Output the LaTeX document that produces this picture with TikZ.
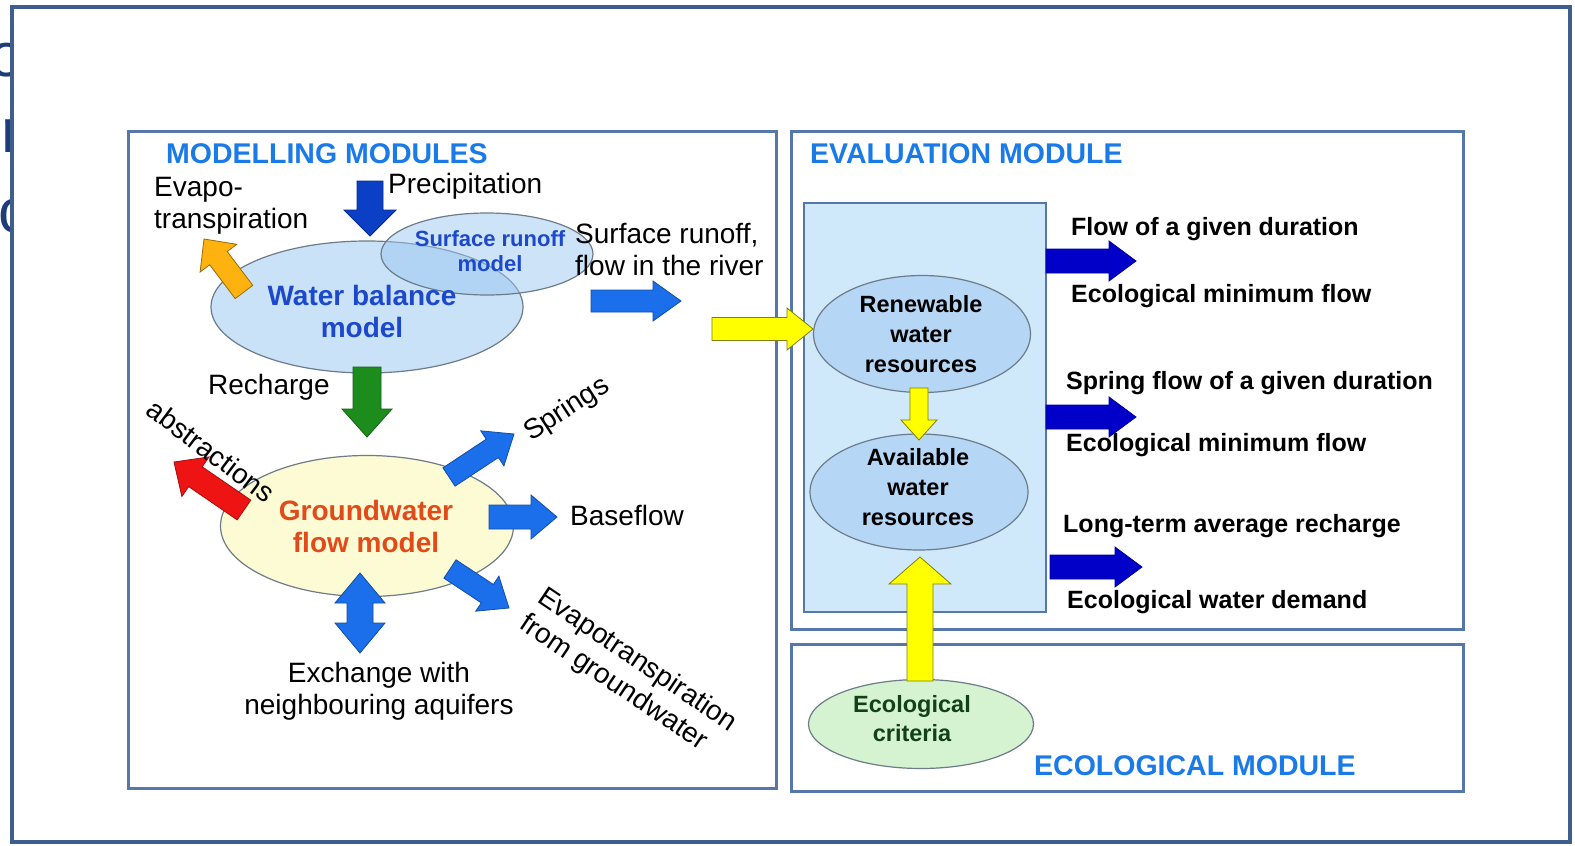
\documentclass[tikz,border=0pt]{standalone}
\usepackage{fontspec}
\setmainfont{Liberation Sans}
\usetikzlibrary{shapes.geometric,calc}
\definecolor{frameblue}{HTML}{3E5E8E}
\definecolor{boxblue}{HTML}{5577AA}
\definecolor{titleblue}{HTML}{1A7AE8}
\definecolor{wbfill}{HTML}{C9E2F8}
\definecolor{srfill}{HTML}{9CC8F2}
\definecolor{ellgray}{HTML}{6E7B88}
\definecolor{wbtext}{HTML}{1C48CC}
\definecolor{gwfill}{HTML}{FDFBD3}
\definecolor{gwtext}{HTML}{E24A1A}
\definecolor{evfill}{HTML}{CFE9FB}
\definecolor{rwfill}{HTML}{B6D6F6}
\definecolor{ecfill}{HTML}{D5F3D0}
\definecolor{ectext}{HTML}{12401A}
\definecolor{precblue}{HTML}{0B3FC6}
\definecolor{midblue}{HTML}{1B6FEB}
\definecolor{arrorange}{HTML}{FDB20F}
\definecolor{arrgreen}{HTML}{1C8C1C}
\definecolor{arrred}{HTML}{EE1414}
\definecolor{arryellow}{HTML}{FFFF00}
\definecolor{darkblue}{HTML}{0000C8}
\definecolor{navy}{HTML}{1F3C7A}
\newcommand\blockarrow[6][]{%
  \path[#1] let \p1=(#2), \p2=(#3), \n1={atan2(\y2-\y1,\x2-\x1)} in
    ($(\p1)+(\n1+90:#4)$) --
    ($(\p2)+(\n1+180:#6)+(\n1+90:#4)$) --
    ($(\p2)+(\n1+180:#6)+(\n1+90:#5)$) --
    (\p2) --
    ($(\p2)+(\n1+180:#6)+(\n1-90:#5)$) --
    ($(\p2)+(\n1+180:#6)+(\n1-90:#4)$) --
    ($(\p1)+(\n1-90:#4)$) -- cycle;}
\newcommand\dblarrow[6][]{%
  \path[#1] let \p1=(#2), \p2=(#3), \n1={atan2(\y2-\y1,\x2-\x1)} in
    ($(\p1)+(\n1:#6)+(\n1+90:#4)$) --
    ($(\p2)+(\n1+180:#6)+(\n1+90:#4)$) --
    ($(\p2)+(\n1+180:#6)+(\n1+90:#5)$) --
    (\p2) --
    ($(\p2)+(\n1+180:#6)+(\n1-90:#5)$) --
    ($(\p2)+(\n1+180:#6)+(\n1-90:#4)$) --
    ($(\p1)+(\n1:#6)+(\n1-90:#4)$) --
    ($(\p1)+(\n1:#6)+(\n1-90:#5)$) --
    (\p1) --
    ($(\p1)+(\n1:#6)+(\n1+90:#5)$) -- cycle;}
\tikzset{
  lbl/.style={font=\fontsize{28}{32}\selectfont, text=black, inner sep=0pt},
  evl/.style={font=\bfseries\fontsize{25}{28}\selectfont, text=black, anchor=west, inner sep=0pt},
  ttl/.style={font=\bfseries\fontsize{28.5}{32}\selectfont, text=titleblue, anchor=west, inner sep=0pt},
  modbox/.style={draw=boxblue, line width=3pt},
  ell/.style={ellipse, draw=ellgray, line width=1.2pt, inner sep=0pt},
  ellt/.style={font=\bfseries\fontsize{23.5}{30}\selectfont, align=center, inner sep=0pt},
  precarr/.style={fill=precblue, draw=precblue!70!black, line width=0.8pt},
  bluearr/.style={fill=midblue, draw=midblue!70!black, line width=0.8pt},
  orarr/.style={fill=arrorange, draw=arrorange!60!black, line width=0.8pt},
  grarr/.style={fill=arrgreen, draw=arrgreen!70!black, line width=0.8pt},
  redarr/.style={fill=arrred, draw=arrred!70!black, line width=0.8pt},
  yelarr/.style={fill=arryellow, draw=arryellow!50!black, line width=0.8pt},
  dbarr/.style={fill=darkblue, draw=darkblue!80!black, line width=0.8pt},
}
\begin{document}
\begin{tikzpicture}[x=1pt,y=-1pt]
\useasboundingbox (0,0) rectangle (1575,846);
% slide remnants at the left edge
\begin{scope}
\clip (0,0) rectangle (14,846);
\node[font=\fontsize{62}{62}\selectfont, text=navy, anchor=east, inner sep=0pt] (f1) at (24,60) {o};
\node[font=\fontsize{62}{62}\selectfont, text=navy, anchor=east, inner sep=0pt] (f2) at (22,136) {r};
\node[font=\fontsize{62}{62}\selectfont, text=navy, anchor=east, inner sep=0pt] (f3) at (30,216) {c};
\end{scope}
% outer frame
\draw[frameblue, line width=4pt, fill=white] (12,7) rectangle (1570,842);
% module boxes
\draw[modbox] (128,131) rectangle (776,788);
\draw[modbox] (791,131) rectangle (1463,629);
\draw[modbox] (791,644) rectangle (1463,791);
\draw[fill=evfill, draw=boxblue, line width=2.5pt] (804,203) rectangle (1046,612);
% titles
\node[ttl] (t1) at (166,154) {MODELLING MODULES};
\node[ttl] (t2) at (810,154) {EVALUATION MODULE};
\node[ttl] (t3) at (1034,766) {ECOLOGICAL MODULE};
% ellipses
\node[ell, fill=wbfill, minimum width=312pt, minimum height=132pt] (wb) at (367,307) {};
\node[ell, fill=srfill, fill opacity=0.5, minimum width=212pt, minimum height=82pt] (sr) at (487,254) {};
\node[ell, fill=gwfill, minimum width=293pt, minimum height=141pt] (gw) at (367,526) {};
\node[ell, fill=rwfill, minimum width=217pt, minimum height=117pt] (rw) at (922,334) {};
\node[ell, fill=rwfill, minimum width=218pt, minimum height=116pt] (aw) at (919,492) {};
\node[ell, fill=ecfill, minimum width=225pt, minimum height=89pt] (ec) at (921,724) {};
% arrow end points
\coordinate (prT) at (370,181); \coordinate (prH) at (370,236);
\coordinate (etT) at (244,292); \coordinate (etH) at (204,239);
\coordinate (srT) at (591,301); \coordinate (srH) at (681,301);
\coordinate (yT) at (712,329);  \coordinate (yH) at (813,329);
\coordinate (rcT) at (367,367); \coordinate (rcH) at (367,437);
\coordinate (abT) at (244,510); \coordinate (abH) at (174,462);
\coordinate (spT) at (449,477); \coordinate (spH) at (514,434);
\coordinate (bfT) at (489,517); \coordinate (bfH) at (557,517);
\coordinate (egT) at (450,569); \coordinate (egH) at (509,608);
\coordinate (exA) at (360,573); \coordinate (exB) at (360,653);
\coordinate (y2T) at (919,388); \coordinate (y2H) at (919,440);
\coordinate (y3T) at (920,681); \coordinate (y3H) at (920,557);
\coordinate (d1T) at (1046,261); \coordinate (d1H) at (1136,261);
\coordinate (d2T) at (1046,417); \coordinate (d2H) at (1136,417);
\coordinate (d3T) at (1050,567); \coordinate (d3H) at (1142,567);
% arrows
\blockarrow[precarr]{prT}{prH}{13pt}{26pt}{26pt}
\blockarrow[orarr]{etT}{etH}{11pt}{23pt}{24pt}
\blockarrow[bluearr]{srT}{srH}{11pt}{20pt}{28pt}
\blockarrow[yelarr]{yT}{yH}{11.5pt}{21pt}{26pt}
\blockarrow[grarr]{rcT}{rcH}{14pt}{25pt}{28pt}
\blockarrow[redarr]{abT}{abH}{12pt}{24pt}{26pt}
\blockarrow[bluearr]{spT}{spH}{11pt}{21pt}{26pt}
\blockarrow[bluearr]{bfT}{bfH}{12pt}{22pt}{26pt}
\blockarrow[bluearr]{egT}{egH}{11pt}{21pt}{26pt}
\dblarrow[bluearr]{exA}{exB}{13pt}{25pt}{30pt}
\blockarrow[yelarr]{y2T}{y2H}{9pt}{18pt}{20pt}
\blockarrow[yelarr]{y3T}{y3H}{13pt}{31pt}{27pt}
\blockarrow[dbarr]{d1T}{d1H}{12pt}{20pt}{27pt}
\blockarrow[dbarr]{d2T}{d2H}{12pt}{20pt}{27pt}
\blockarrow[dbarr]{d3T}{d3H}{12pt}{20pt}{27pt}
% ellipse texts
\node[font=\bfseries\fontsize{28}{32}\selectfont, text=wbtext, align=center, inner sep=0pt] (wbt) at (362,311) {Water balance\\model};
\node[font=\bfseries\fontsize{22}{25}\selectfont, text=wbtext, align=center, inner sep=0pt] (srt) at (490,251) {Surface runoff\\model};
\node[font=\bfseries\fontsize{28}{32}\selectfont, text=gwtext, align=center, inner sep=0pt] (gwt) at (366,526) {Groundwater\\flow model};
\node[ellt] (rwt) at (921,334) {Renewable\\water\\resources};
\node[ellt] (awt) at (918,487) {Available\\water\\resources};
\node[ellt, text=ectext, font=\bfseries\fontsize{23.5}{29}\selectfont] (ect) at (912,719) {Ecological\\criteria};
% labels, modelling module
\node[lbl, anchor=west] (prl) at (388,186) {Precipitation};
\node[lbl, anchor=west, align=left] (etl) at (154,206) {Evapo-\\transpiration};
\node[lbl, anchor=west, align=left] (srl) at (575,250) {Surface runoff,\\flow in the river};
\node[lbl, anchor=west] (rcl) at (208,387) {Recharge};
\node[lbl, rotate=-37] (abl) at (211,451) {abstractions};
\node[lbl, rotate=33] (spl) at (567,410) {Springs};
\node[lbl, anchor=west] (bfl) at (570,515) {Baseflow};
\node[lbl, rotate=-34, align=left] (egl) at (628,674) {Evapotranspiration\\from groundwater};
\node[lbl, align=center] (exl) at (379,691) {Exchange with\\neighbouring aquifers};
% labels, evaluation module
\node[evl] (e1) at (1071,229) {Flow of a given duration};
\node[evl] (e2) at (1071,296) {Ecological minimum flow};
\node[evl] (e3) at (1066,383) {Spring flow of a given duration};
\node[evl] (e4) at (1066,445) {Ecological minimum flow};
\node[evl] (e5) at (1063,526) {Long-term average recharge};
\node[evl] (e6) at (1067,602) {Ecological water demand};
\end{tikzpicture}
\end{document}
